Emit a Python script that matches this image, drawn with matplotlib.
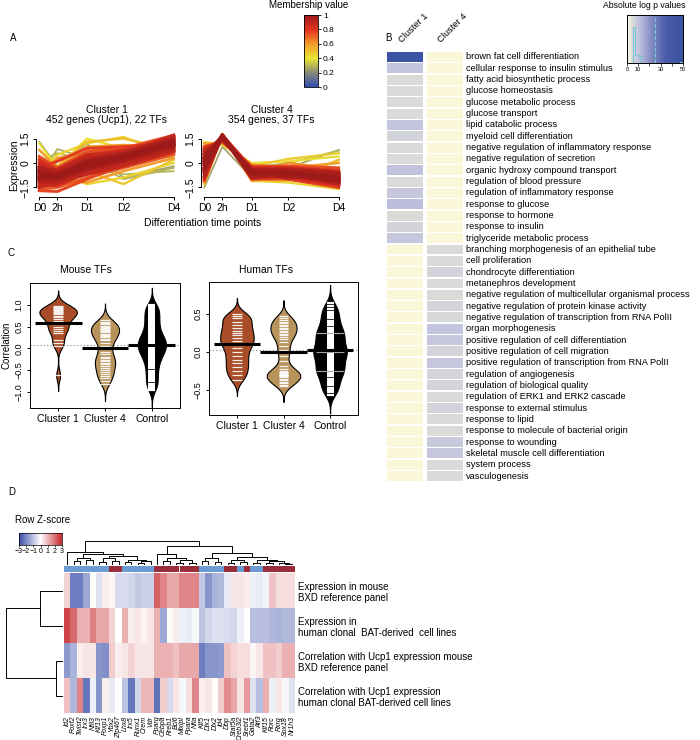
import numpy as np
import matplotlib
matplotlib.use('Agg')
import matplotlib.pyplot as plt
from matplotlib.colors import LinearSegmentedColormap, Normalize
from matplotlib.cm import ScalarMappable

plt.rcParams['font.family'] = ['Liberation Sans', 'DejaVu Sans']
plt.rcParams['axes.linewidth'] = 0.7

# ---------------- data: A, fuzzy cluster profiles ----------------
time_labels = ['D0', '2h', 'D1', 'D2', 'D4']
time_pos = [0, 0.38, 1.0, 1.77, 2.83]

c1_prof = [
    [1.3, -0.2, 1.2, -0.9, -0.2], [-0.8, 0.85, 0.3, -1.0, -0.3], [0.1, 0.6, 0.2, -0.7, -0.5],
    [1.2, -0.3, 1.5, 0.9, 0.3], [-1.7, -0.6, -1.3, -0.9, 0.0], [-0.5, 0.5, 1.2, 1.6, 0.5],
    [-1.3, -1.0, -0.5, -1.3, 0.2], [0.3, -0.2, 1.3, 1.5, 0.8], [0.8, -0.3, 1.0, 1.1, 1.0],
    [-1.6, -1.0, -1.2, -0.5, 0.3], [-1.0, 0.3, 0.6, 0.4, 1.5], [-1.6, -1.5, -0.9, -0.3, 0.5],
    [0.4, -0.3, 0.7, 0.9, 1.7], [-1.7, -1.75, -1.0, -0.1, 0.6], [-0.3, 0.1, 0.9, 1.0, 1.2],
    [-1.4, -1.3, -0.6, 0.0, 0.8], [0.0, -0.5, 0.4, 0.7, 1.6], [-1.5, -1.2, -0.7, -0.2, 0.7],
    [-0.5, -0.4, 0.5, 0.6, 1.7], [-1.2, -1.1, -0.4, 0.1, 0.9], [-0.2, -0.6, 0.2, 0.6, 1.5],
    [-1.0, -1.0, -0.3, 0.2, 1.0], [-0.4, -0.7, 0.0, 0.5, 1.4], [-0.8, -0.9, -0.2, 0.3, 1.1],
    [-0.6, -0.8, -0.1, 0.4, 1.3], [-0.9, -0.85, -0.15, 0.35, 1.2],
    [-1.1, -1.2, -0.5, 0.0, 0.8], [-0.3, -0.5, 0.3, 0.55, 1.6], [-0.7, -1.0, -0.25, 0.25, 1.05],
    [-1.3, -1.4, -0.6, -0.05, 0.75], [0.2, -0.45, 0.5, 0.8, 1.55],
    [-0.95, -0.75, 0.1, 0.45, 1.35], [-0.5, -0.95, -0.35, 0.15, 1.15],
]
c1_member = [0.25, 0.28, 0.3, 0.42, 0.45, 0.45, 0.48, 0.5, 0.58, 0.6, 0.62, 0.72, 0.74,
             0.76, 0.78, 0.85, 0.86, 0.88, 0.88, 0.92, 0.93, 0.95, 0.96, 0.98, 0.99, 1.0,
             0.9, 0.9, 0.97, 0.84, 0.82, 0.99, 0.97]

c4_prof = [
    [-1.5, 1.0, -0.9, -0.3, 0.8], [1.1, 1.2, -0.3, 0.0, 0.75], [1.3, 1.1, 0.0, 0.1, 0.4],
    [-1.3, 1.8, -1.1, -1.2, -1.6], [0.6, 1.4, -0.2, 0.25, 0.6], [-0.7, 1.6, -1.0, -1.1, 0.2],
    [1.2, 1.2, -0.1, -0.3, 0.0], [-1.2, 1.8, -1.1, -0.7, -1.5], [0.4, 1.5, -0.6, 0.0, -0.4],
    [-1.1, 1.7, -1.0, -1.0, -1.4], [1.0, 1.3, -0.2, -0.2, -0.3], [-0.2, 1.7, -0.3, -1.0, -1.5],
    [-0.9, 1.7, -0.9, -0.9, -1.3], [0.8, 1.4, -0.3, -0.3, -0.5], [-0.5, 1.6, -0.5, -0.4, -1.0],
    [0.6, 1.6, -0.8, -0.7, -1.3], [-0.6, 1.7, -0.8, -0.8, -1.1], [0.5, 1.5, -0.4, -0.4, -0.6],
    [-0.1, 1.6, -0.9, -0.6, -1.2], [0.2, 1.7, -0.6, -0.9, -0.8], [0.3, 1.5, -0.5, -0.5, -0.7],
    [-0.3, 1.6, -0.7, -0.7, -1.0], [0.0, 1.6, -0.6, -0.6, -0.9],
    [-0.8, 1.65, -0.75, -0.75, -1.2], [0.7, 1.5, -0.45, -0.5, -0.8],
    [-0.4, 1.7, -0.65, -0.55, -0.95], [0.1, 1.55, -0.55, -0.75, -1.1],
    [-1.0, 1.75, -0.95, -0.85, -1.35], [0.9, 1.35, -0.35, -0.4, -0.7],
    [0.35, 1.6, -0.7, -0.6, -1.0],
]
c4_member = [0.25, 0.3, 0.42, 0.45, 0.47, 0.5, 0.58, 0.6, 0.62, 0.72, 0.75, 0.78, 0.85,
             0.86, 0.88, 0.9, 0.93, 0.94, 0.95, 0.96, 0.97, 0.98, 1.0,
             0.92, 0.9, 0.99, 0.98, 0.84, 0.82, 0.99]

# ---------------- data: B, GO enrichment ----------------
go_terms = [
    'brown fat cell differentiation', 'cellular response to insulin stimulus',
    'fatty acid biosynthetic process', 'glucose homeostasis', 'glucose metabolic process',
    'glucose transport', 'lipid catabolic process', 'myeloid cell differentiation',
    'negative regulation of inflammatory response', 'negative regulation of secretion',
    'organic hydroxy compound transport', 'regulation of blood pressure',
    'regulation of inflammatory response', 'response to glucose', 'response to hormone',
    'response to insulin', 'triglyceride metabolic process',
    'branching morphogenesis of an epithelial tube', 'cell proliferation',
    'chondrocyte differentiation', 'metanephros development',
    'negative regulation of multicellular organismal process',
    'negative regulation of protein kinase activity',
    'negative regulation of transcription from RNA PolII', 'organ morphogenesis',
    'positive regulation of cell differentiation', 'positive regulation of cell migration',
    'positive regulation of transcription from RNA PolII', 'regulation of angiogenesis',
    'regulation of biological quality', 'regulation of ERK1 and ERK2 cascade',
    'response to external stimulus', 'response to lipid',
    'response to molecule of bacterial origin', 'response to wounding',
    'skeletal muscle cell differentiation', 'system process', 'vasculogenesis',
]
nan = np.nan
go_c1 = [50, 10, 5, 5, 5, 5, 10, 6.5, 5, 5, 10.5, 5, 9.5, 11.5, 5, 6.5, 9.5] + [nan] * 21
go_c4 = [nan] * 17 + [5, 5, 6.5, 5, 5, 6.5, 5.5, 10, 9.5, 6.5, 9.5, 6.5, 6.5, 5, 6.5, 5, 5,
                      9, 9.5, 5, 5]

# ---------------- data: C, correlation beans ----------------
groups = ['Cluster 1', 'Cluster 4', 'Control']
mouse_c1 = [0.97, 0.95, 0.92, 0.9, 0.88, 0.85, 0.83, 0.8, 0.78, 0.75, 0.72, 0.68, 0.62, 0.55,
            0.48, 0.45, 0.4, 0.35, 0.2, 0.12, 0.05, -0.62]
mouse_c4 = [0.64, 0.61, 0.58, 0.55, 0.52, 0.5, 0.47, 0.45, 0.42, 0.4, 0.37, 0.34, 0.31, 0.28,
            0.25, 0.22, 0.18, 0.12, 0.05, 0.0, -0.08, -0.14, -0.19, -0.23, -0.27, -0.3, -0.33,
            -0.37, -0.41, -0.45, -0.5, -0.55, -0.6, -0.64, -0.69, -0.75, -0.82]
mouse_ctrl = [-0.96, -0.91, -0.86, -0.81, -0.76, -0.71, -0.66, -0.61, -0.56, -0.51, -0.46,
              -0.41, -0.37, -0.33, -0.29, -0.25, -0.22, -0.19, -0.16, -0.13, -0.1, -0.08,
              -0.06, -0.04, -0.02, 0.0, 0.02, 0.04, 0.06, 0.08, 0.1, 0.12, 0.14, 0.16, 0.18,
              0.2, 0.22, 0.24, 0.26, 0.29, 0.32, 0.35, 0.38, 0.42, 0.46, 0.5, 0.54, 0.58, 0.62,
              0.66, 0.7, 0.74, 0.78, 0.82, 0.86, 0.9, 0.94, 0.98, 1.0]
human_c1 = [0.5, 0.47, 0.44, 0.4, 0.36, 0.32, 0.28, 0.25, 0.22, 0.18, 0.15, 0.12, 0.09, 0.05,
            0.0, -0.05, -0.1, -0.15, -0.2, -0.25, -0.3, -0.37]
human_c4 = [0.47, 0.45, 0.42, 0.4, 0.38, 0.36, 0.34, 0.32, 0.3, 0.28, 0.26, 0.24, 0.22, 0.2,
            0.17, 0.13, 0.08, 0.03, 0.0, -0.05, -0.12, -0.18, -0.22, -0.25, -0.27, -0.29,
            -0.31, -0.33, -0.35, -0.37, -0.39, -0.41, -0.43, -0.45, -0.3, -0.28, -0.32]
human_ctrl = [0.64, 0.6, 0.56, 0.53, 0.5, 0.47, 0.44, 0.41, 0.38, 0.35, 0.32, 0.3, 0.28, 0.25,
              0.25, 0.23, 0.21, 0.19, 0.17, 0.15, 0.13, 0.11, 0.09, 0.07, 0.05, 0.03, 0.01,
              0.0, 0.0, -0.01, -0.03, -0.05, -0.07, -0.09, -0.11, -0.13, -0.15, -0.17, -0.19,
              -0.21, -0.23, -0.25, -0.25, -0.28, -0.3, -0.32, -0.35, -0.38, -0.41, -0.44,
              -0.47, -0.5, -0.53, -0.57]
human_ctrl_ties = [0.25, 0.0, -0.25]

# ---------------- data: D, TF heatmap ----------------
genes = ['Id2', 'Foxf2', 'Twist2', 'Irx3', 'Nfil3', 'Klf13', 'Foxp1', 'Ybx2', 'Zfp467', 'Lhx8',
         'Irx5', 'Runx1', 'Crem', 'Vdr', 'Pparg', 'Cebpa', 'Rreb1', 'Bcl6', 'Mlxipl', 'Ppara',
         'Nfia', 'Klf5', 'Dlx1', 'Dlx2', 'Id4', 'Dbp', 'Stat5a', 'Creb3l2', 'Srebf1', 'Gata2',
         'Atf3', 'Klf15', 'Rorc', 'Rxrg', 'Sox18', 'Nr1h3']
gene_cluster = [4, 4, 4, 4, 4, 4, 4, 1, 1, 4, 4, 4, 4, 4, 1, 1, 1, 1, 1, 1, 1, 4, 4, 4, 4, 1,
                1, 4, 1, 4, 4, 1, 1, 1, 1, 1]
hm_rows = ['Expression in mouse\nBXD reference panel',
           'Expression in\nhuman clonal  BAT-derived  cell lines',
           'Correlation with Ucp1 expression mouse\nBXD reference panel',
           'Correlation with Ucp1 expression\nhuman clonal BAT-derived cell lines']
hm_z = [
    [0.6, -2.2, -2.2, -1.5, 0.0, -0.5, 0.25, 0.1, -0.6, -0.6, -0.7, -0.9, -0.8, -0.8, 2.2, 1.7,
     1.2, 1.2, 1.7, 1.7, 1.7, -0.9, -1.8, -1.3, -1.2, -0.35, 0.35, 0.35, 0.25, -0.25, -0.35,
     -0.2, 0.8, 0.45, 0.45, 0.45],
    [2.6, 2.1, 1.1, 1.1, 1.8, 1.2, 1.2, 0.6, 0.0, 1.1, 0.25, 0.35, 0.12, 0.35, 1.1, -1.5, 0.05,
     0.25, -0.25, -0.35, -0.12, -1.0, -0.7, -0.5, -0.5, -0.6, -0.7, -0.25, 0.0, -1.1, -1.1,
     -1.1, -1.2, -1.3, -1.2, -1.2],
    [-1.7, -1.3, 0.25, 0.35, 0.35, -1.8, -1.9, 0.7, 0.25, 0.35, 0.6, 0.35, 0.35, 0.35, 1.1, 1.1,
     1.1, 0.85, 1.2, 1.2, 1.2, -2.2, -1.8, -1.8, -1.7, 0.85, 0.6, 0.45, 0.45, 0.12, 0.35, 0.85,
     0.85, 0.7, 1.1, 1.1],
    [0.85, -1.2, 1.7, -2.3, -0.25, -1.8, 0.25, -0.35, 0.0, -1.0, -2.3, -0.7, 1.0, 1.0, -2.4,
     0.7, -0.6, 0.35, -0.12, 0.45, 1.7, 0.25, 0.35, 0.0, 0.7, 1.6, 1.2, 0.35, 1.4, -0.5, -1.1,
     1.1, -0.25, 0.35, -0.12, -0.5],
]
# dendrograms: (left, right, height) with leaves as column / row indices
col_tree = (
    (0, (((1, 2, 0.15), (3, 4, 0.2), 0.3),
         (((5, 6, 0.12), (7, 8, 0.18), 0.28), ((9, 10, 0.12), ((11, 12, 0.1), 13, 0.16), 0.22),
          0.38), 0.48), 0.55),
    ((14, ((15, 16, 0.15), ((17, 18, 0.1), (19, 20, 0.08), 0.2), 0.28), 0.45),
     (((21, 22, 0.18), (23, 24, 0.12), 0.3),
      (((25, 26, 0.1), (27, 28, 0.12), 0.2),
       ((29, 30, 0.1), ((31, 32, 0.08), (33, (34, 35, 0.06), 0.1), 0.15), 0.22), 0.35), 0.5),
     0.8),
    1.0)
row_tree = ((0, 1, 0.40), (2, 3, 0.12), 1.0)

# ---------------- figure ----------------
W, H = 700, 740
fig = plt.figure(figsize=(7, 7.4), dpi=100)


def box(x0, y0, x1, y1):
    return fig.add_axes([x0 / W, 1 - y1 / H, (x1 - x0) / W, (y1 - y0) / H])


def ftext(x, y, s, **kw):
    fig.text(x / W, 1 - y / H, s, **kw)


for lab, x, y in [('A', 10, 38), ('B', 385, 38), ('C', 8, 253), ('D', 8, 492)]:
    ftext(x, y, lab, fontsize=7, va='center')

# ---- A ----
mem_cmap = LinearSegmentedColormap.from_list(
    'mem', [(0, '#2f4fb0'), (0.2, '#8a8a78'), (0.4, '#e8e632'), (0.6, '#f29a2a'),
            (0.8, '#e2321f'), (1, '#9c1a1a')])


def profile_panel(ax, prof, member, title):
    order = np.argsort(member, kind='stable')
    for i in order:
        ax.plot(time_pos, prof[i], color=mem_cmap(member[i]), lw=0.8 + 1.8 * member[i])
    ax.set_xlim(-0.07, 2.9)
    ax.set_ylim(-2.09, 1.84)
    for s in ['top', 'right']:
        ax.spines[s].set_visible(False)
    ax.spines['left'].set_bounds(-1.5, 1.5)
    ax.spines['bottom'].set_bounds(time_pos[0], time_pos[-1])
    ax.set_xticks(time_pos)
    ax.set_xticklabels(time_labels, fontsize=7.5)
    ax.set_yticks([-1.5, 0, 1.5])
    ax.set_yticklabels(['\u22121.5', '0', '1.5'], rotation=90, va='center', fontsize=7.5)
    ax.tick_params(length=2.5, width=0.7, pad=1.5)
    ax.set_title(title, fontsize=7.5, pad=7, linespacing=1.0)


ax1 = box(36, 133, 177, 197)
profile_panel(ax1, c1_prof, c1_member, 'Cluster 1\n452 genes (Ucp1), 22 TFs')
ax1.set_ylabel('Expression', fontsize=7.5, labelpad=1)
ax4 = box(201, 133, 342, 197)
profile_panel(ax4, c4_prof, c4_member, 'Cluster 4\n354 genes, 37 TFs')
ftext(203, 223, 'Differentiation time points', fontsize=7.5, ha='center', va='center')

cax = box(304, 15, 318, 87)
cb = fig.colorbar(ScalarMappable(Normalize(0, 1), mem_cmap), cax=cax)
cb.set_ticks([0, 0.2, 0.4, 0.6, 0.8, 1])
cb.set_ticklabels(['0', '0.2', '0.4', '0.6', '0.8', '1'])
cb.ax.tick_params(labelsize=6, length=2, width=0.6, pad=1.5)
cb.outline.set_linewidth(0.6)
ftext(309, 5, 'Membership value', fontsize=7, ha='center', va='center')

# ---- B ----
go_cmap = LinearSegmentedColormap.from_list(
    'go', [(0, '#fcfbe2'), (0.1, '#d9d9d9'), (0.2, '#c3c5de'), (0.45, '#7f88c0'),
           (0.7, '#4b5ca8'), (1, '#3a52a3')])
go_na = '#faf7d9'
go_norm = Normalize(0, 50)
axb = box(387, 51.3, 463, 481.7)
rows = np.arange(len(go_terms))
for j, vals in enumerate([go_c1, go_c4]):
    cols = [go_na if np.isnan(v) else go_cmap(go_norm(v)) for v in vals]
    axb.barh(rows, 0.9, left=j - 0.45, height=0.88, color=cols)
for i, t in enumerate(go_terms):
    axb.text(1.53, i, t, fontsize=6.7, va='center', ha='left')
axb.set_xlim(-0.45, 1.45)
axb.set_ylim(len(go_terms) - 0.5, -0.5)
axb.axis('off')
ftext(403, 44, 'Cluster 1', fontsize=6.7, rotation=45, rotation_mode='anchor',
      ha='left', va='bottom')
ftext(442, 44, 'Cluster 4', fontsize=6.7, rotation=45, rotation_mode='anchor',
      ha='left', va='bottom')

kax = box(627, 15, 683, 63)
kax.imshow(np.linspace(0, 50, 200)[None, :], cmap=go_cmap, norm=go_norm, aspect='auto',
           extent=[0, 50, 0, 1])
allp = np.array([v for v in go_c1 + go_c4 if not np.isnan(v)])
cnt, edges = np.histogram(allp, bins=np.arange(0, 52.5, 2.5))
kax.step(edges, np.r_[cnt, 0] / cnt.max() * 0.75, where='post', color='#7cc6dc', lw=0.8)
kax.axvline(25, color='#7cc6dc', lw=0.8, ls='--')
kax.set_xlim(0, 50)
kax.set_ylim(0, 1)
kax.set_yticks([])
kax.set_xticks([0, 10, 20, 30, 40, 50])
kax.set_xticklabels(['0', '10', '', '30', '', '50'])
kax.tick_params(labelsize=4, length=2, width=0.5, pad=1)
ftext(644, 5, 'Absolute log p values', fontsize=6.2, ha='center', va='center')

# ---- C ----
bean_cols = ['#a84d27', '#b8945c', '#000000']


def kde(vals, grid, bw):
    v = np.asarray(vals)[:, None]
    return np.exp(-0.5 * ((grid[None, :] - v) / bw) ** 2).sum(axis=0)


def bean_panel(ax, data, bws, widths, ylim, yticks, ylabs, ties=None):
    ax.axhline(np.mean(data[2]), color='#888888', lw=0.8, ls=(0, (1, 2)), zorder=1)
    for g, (vals, bw, mw, col) in enumerate(zip(data, bws, widths, bean_cols)):
        x = g + 1
        grid = np.linspace(min(vals) - 3 * bw, max(vals) + 3 * bw, 300)
        d = kde(vals, grid, bw)
        hw = d / d.max() * mw
        ax.fill_betweenx(grid, x - hw, x + hw, facecolor=col, edgecolor='black', lw=0.8,
                         zorder=2)
        if g == 2:
            ax.hlines(vals, x - 0.075, x + 0.075, colors='white', lw=1.6, zorder=3)
        else:
            ax.hlines(vals, x - 0.1, x + 0.1, colors='white', lw=0.9, alpha=0.9, zorder=3)
        if ties is not None and g == 2:
            ax.hlines(ties, x - 0.3, x + 0.3, colors='#aaaaaa', lw=0.8, zorder=3)
        ax.hlines(np.mean(vals), x - 0.5, x + 0.5, colors='black', lw=2.2, zorder=4)
    ax.set_xlim(0.4, 3.6)
    ax.set_ylim(*ylim)
    ax.set_xticks([1, 2, 3])
    ax.set_xticklabels(groups, fontsize=7.5)
    ax.set_yticks(yticks)
    ax.set_yticklabels(ylabs, rotation=90, va='center', fontsize=6.5)
    ax.tick_params(length=2.5, width=0.7, pad=2)


axm = box(30, 283, 180, 408)
bean_panel(axm, [mouse_c1, mouse_c4, mouse_ctrl], [0.12, 0.13, 0.13], [0.4, 0.3, 0.3],
           (-1.37, 1.5), [-1, -0.5, 0, 0.5, 1],
           ['\u22121.0', '\u22120.5', '0.0', '0.5', '1.0'])
axm.set_ylabel('Correlation', fontsize=7, labelpad=2)
axh = box(209, 282, 358, 415)
bean_panel(axh, [human_c1, human_c4, human_ctrl], [0.07, 0.07, 0.08], [0.36, 0.36, 0.36],
           (-0.83, 0.92), [-0.5, 0, 0.5], ['\u22120.5', '0.0', '0.5'], ties=human_ctrl_ties)
ftext(86, 270, 'Mouse TFs', fontsize=7.5, ha='center', va='center')
ftext(266, 270, 'Human TFs', fontsize=7.5, ha='center', va='center')

# ---- D ----
z_cmap = LinearSegmentedColormap.from_list('z', ['#3a4fa8', '#ffffff', '#c8282e'])
grp_col = {4: '#6b9bd2', 1: '#9b2c3a'}
ncol = len(genes)

axd = box(64, 573, 295, 713)
axd.imshow(np.array(hm_z), cmap=z_cmap, vmin=-3, vmax=3, aspect='auto',
           interpolation='nearest')
axd.set_xticks(np.arange(ncol))
axd.set_xticklabels(genes, rotation=90, fontsize=5, fontstyle='italic')
axd.set_yticks([])
axd.tick_params(length=0, pad=2)
for s in axd.spines.values():
    s.set_visible(False)
for i, lab in enumerate(hm_rows):
    axd.text(ncol - 0.5 + 0.45, i + 0.05, lab, fontsize=7, va='center', ha='left',
             linespacing=1.15)

sax = box(64, 566, 295, 572)
sax.bar(np.arange(ncol), 1, width=1.0, color=[grp_col[c] for c in gene_cluster])
sax.set_xlim(-0.5, ncol - 0.5)
sax.set_ylim(0, 1)
sax.axis('off')


def draw_tree(ax, node, horizontal):
    if isinstance(node, int):
        return node, 0.0
    a, b, h = node
    pa, ha = draw_tree(ax, a, horizontal)
    pb, hb = draw_tree(ax, b, horizontal)
    xs, ys = [pa, pa, pb, pb], [ha, h, h, hb]
    if horizontal:
        ax.plot(ys, xs, color='black', lw=0.7)
    else:
        ax.plot(xs, ys, color='black', lw=0.7)
    return (pa + pb) / 2, h


dax = box(64, 541, 295, 565)
draw_tree(dax, col_tree, False)
dax.set_xlim(-0.5, ncol - 0.5)
dax.set_ylim(0, 1.02)
dax.axis('off')

rax = box(5, 573, 63, 713)
draw_tree(rax, row_tree, True)
rax.set_xlim(1.02, 0)
rax.set_ylim(3.5, -0.5)
rax.axis('off')

zk = box(19, 533, 62, 545)
zk.imshow(np.linspace(-3, 3, 200)[None, :], cmap=z_cmap, aspect='auto', extent=[-3, 3, 0, 1])
zk.set_yticks([])
zk.set_xticks([-3, -2, -1, 0, 1, 2, 3])
zk.set_xticklabels(['\u22123', '\u22122', '\u22121', '0', '1', '2', '3'])
zk.tick_params(labelsize=5, length=1.5, width=0.5, pad=0.5)
for s in zk.spines.values():
    s.set_linewidth(0.5)
ftext(15, 520, 'Row Z-score', fontsize=7, va='center')

fig.savefig('out.png', dpi=100)
